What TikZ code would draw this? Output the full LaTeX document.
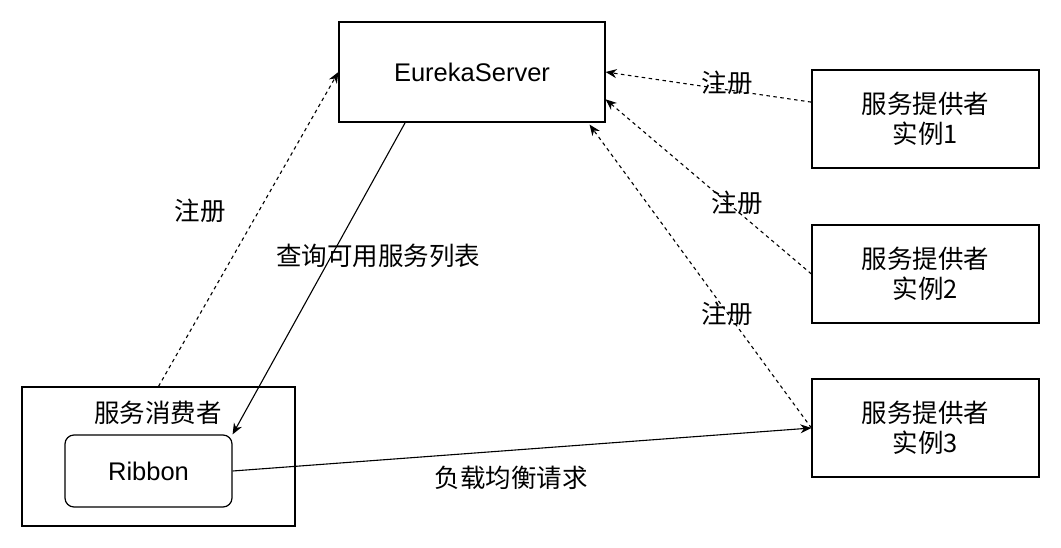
\documentclass[tikz,border=0pt]{standalone}
\usepackage{fontspec}
\setmainfont{Liberation Sans}
\newfontfamily\cjk{Noto Sans CJK SC}
\usetikzlibrary{arrows.meta,calc}
\begin{document}
\begin{tikzpicture}[x=1pt,y=-1pt,
  box/.style={draw,line width=1.2pt,inner sep=0pt},
  txt/.style={font=\fontsize{25.5}{30}\selectfont,inner sep=0pt},
  ctxt/.style={font=\cjk\fontsize{25.5}{30}\selectfont,inner sep=0pt,align=center},
  arr/.style={line width=1.1pt,-{Stealth[length=11pt,width=9pt,inset=3.5pt]}},
  dotarr/.style={arr,dash pattern=on 3.5pt off 3.5pt}]
\useasboundingbox (0,0) rectangle (1061,548);
\node[box,minimum width=266pt,minimum height=100pt,txt] (eureka) at (472,72) {EurekaServer};
\node[box,minimum width=227pt,minimum height=98pt,ctxt] (p1) at (925.5,119) {服务提供者\\实例1};
\node[box,minimum width=227pt,minimum height=98pt,ctxt] (p2) at (925.5,274) {服务提供者\\实例2};
\node[box,minimum width=227pt,minimum height=98pt,ctxt] (p3) at (925.5,428) {服务提供者\\实例3};
\node[box,minimum width=273pt,minimum height=139pt] (consumer) at (158.5,456.5) {};
\node[ctxt] (ctitle) at (158,413) {服务消费者};
\node[box,rounded corners=9pt,minimum width=167pt,minimum height=72pt,txt] (ribbon) at (148.5,471) {Ribbon};
% connectors
\draw[dotarr] (consumer.north) -- (eureka.west);
\draw[arr] ($(eureka.south west)!0.25!(eureka.south east)$) -- (ribbon.north east);
\draw[dotarr] ($(p1.north west)!0.33!(p1.south west)$) -- (eureka.east);
\draw[dotarr] (p2.west) -- ($(eureka.north east)!0.77!(eureka.south east)$);
\draw[dotarr] (p3.west) -- ($(eureka.south west)!0.94!(eureka.south east)+(0,2)$);
\draw[arr] (ribbon.east) -- (p3.west);
% labels
\node[ctxt] (l1) at (200,211) {注册};
\node[ctxt] (l2) at (378,256) {查询可用服务列表};
\node[ctxt] (l3) at (727,83) {注册};
\node[ctxt] (l4) at (737,203) {注册};
\node[ctxt] (l5) at (727,314) {注册};
\node[ctxt] (l6) at (511,478) {负载均衡请求};
\end{tikzpicture}
\end{document}
